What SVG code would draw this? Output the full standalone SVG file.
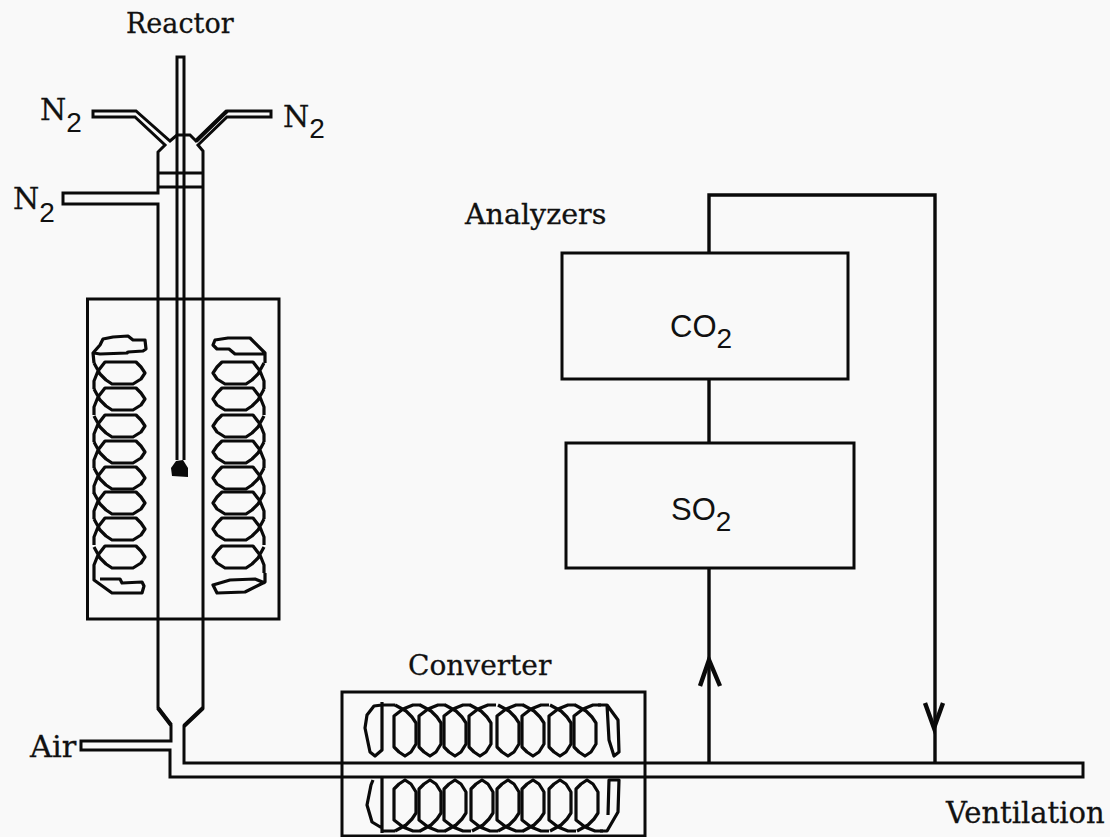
<svg xmlns="http://www.w3.org/2000/svg" width="1110" height="837" viewBox="0 0 1110 837">
<style>
.l{fill:none;stroke:#0a0a0a;stroke-width:3;stroke-linejoin:miter}
.c{fill:none;stroke:#0a0a0a;stroke-width:3.200;stroke-linejoin:round}
.w{fill:none;stroke:#0a0a0a;stroke-width:3.400}
.t{font-family:"DejaVu Serif",serif;font-size:27px;fill:#111;stroke:#111;stroke-width:.3}
.f{font-family:"Liberation Sans",sans-serif;font-size:31px;fill:#111;stroke:none}
.s{font-family:"Liberation Sans",sans-serif;font-size:28px;fill:#111;stroke:none}
</style>
<defs>
<path id="loop" class="c" d="M94,-10L100,1L106,7L112,11L133,11L141,6L145,0L141,-6L136,-11L105,-11L98,-2L94,8L94,16"/>
<path id="vl" class="c" d="M-10,0L1,6L7,12L11,18L11,39L6,47L0,51L-6,47L-11,42L-11,11L-2,4L8,0L16,0"/>
</defs>
<rect width="1110" height="837" fill="#f9f9f9"/>
<g id="reactor">
<path class="l" d="M93,111H136L170,141L177,135H190L196,141L227,111H271V117H227L198,145L203,151V708L184,726V763H1083V777H170V750H81V741H171V725L158,708V204H63V193H158V152L165,145L135,117H93Z"/>
<path class="l" d="M158,173H203M158,187H203"/>
<path d="M158,708L171,725M203,708L184,726M227,111L196,141" fill="none" stroke="#0a0a0a" stroke-width="4.200"/>
<path class="l" d="M177,460V57H184V460"/>
<path d="M176,461L183,460L188,468V477L172,476L171,468Z" fill="#0a0a0a"/>
</g>
<g id="furnace">
<rect class="l" x="87.500" y="299" width="191.500" height="320"/>
<g id="coil-left">
<path class="c" d="M94,363L93,353L100,345L103,339L113,337L128,336L133,340L145,340L146,349L143,351L128,352L127,353L100,354L94,353"/>
<use href="#loop" y="373"/><use href="#loop" y="399"/><use href="#loop" y="426"/><use href="#loop" y="452"/><use href="#loop" y="478"/><use href="#loop" y="503"/><use href="#loop" y="529"/><use href="#loop" y="557"/>
<path class="c" d="M94,573V580L112,593L142,593L144,586L142,582L122,583L120,579L100,579"/>
</g>
<g id="coil-right">
<path class="c" d="M265,363V353L250,338L228,338L215,340L213,345L217,349L229,349L235,354L265,354"/>
<use href="#loop" transform="translate(358,373) scale(-1,1)"/><use href="#loop" transform="translate(358,399) scale(-1,1)"/><use href="#loop" transform="translate(358,426) scale(-1,1)"/><use href="#loop" transform="translate(358,452) scale(-1,1)"/><use href="#loop" transform="translate(358,478) scale(-1,1)"/><use href="#loop" transform="translate(358,503) scale(-1,1)"/><use href="#loop" transform="translate(358,529) scale(-1,1)"/><use href="#loop" transform="translate(358,557) scale(-1,1)"/>
<path class="c" d="M265,573V582L245,592L217,593L213,585L230,580L255,579L265,583"/>
</g>
</g>
<g id="converter">
<rect class="l" x="342" y="692" width="303" height="144"/>
<g id="coil-top">
<path class="c" d="M382,702V750L375,756L370,752L365,728L367,715L374,706L382,705H395"/>
<use transform="translate(405,705)" href="#vl"/><use transform="translate(430,705)" href="#vl"/><use transform="translate(455,705)" href="#vl"/><use transform="translate(480,705)" href="#vl"/><use transform="translate(508,705)" href="#vl"/><use transform="translate(533,705)" href="#vl"/><use transform="translate(560,705)" href="#vl"/><use transform="translate(585,705)" href="#vl"/>
<path class="c" d="M598,705H607L618,720L619,752L614,756L609,740L607,705"/>
</g>
<g id="coil-bottom">
<path class="c" d="M382,778V833M382,828L372,822L367,805L371,785L373,780M382,831H395"/>
<use transform="translate(405,831) scale(1,-1)" href="#vl"/><use transform="translate(430,831) scale(1,-1)" href="#vl"/><use transform="translate(455,831) scale(1,-1)" href="#vl"/><use transform="translate(482,831) scale(1,-1)" href="#vl"/><use transform="translate(508,831) scale(1,-1)" href="#vl"/><use transform="translate(533,831) scale(1,-1)" href="#vl"/><use transform="translate(560,831) scale(1,-1)" href="#vl"/><use transform="translate(587,831) scale(1,-1)" href="#vl"/>
<path class="c" d="M600,831H607L618,812L619,780L609,780L608,815"/>
</g>
</g>
<g id="connectors">
<path class="w" d="M709,253V195H935V763"/>
<path class="w" d="M709,379V443"/>
<path class="w" d="M709,568V763"/>
<path class="w" style="stroke-width:4.400" d="M700,686L709,660L720,686"/>
<path class="w" style="stroke-width:4.400" d="M925,703L934,728L943,703"/>
</g>
<g id="co2"><rect class="l" x="562" y="253" width="286" height="126"/><text class="f" x="670" y="337">CO<tspan class="s" dy="11">2</tspan></text></g>
<g id="so2"><rect class="l" x="566" y="443" width="288" height="125"/><text class="f" x="671" y="520">SO<tspan class="s" dy="11">2</tspan></text></g>
<g id="labels">
<text class="t" x="126" y="33">Reactor</text>
<text class="t" style="font-size:30px" x="40" y="120">N<tspan class="s" dy="12">2</tspan></text>
<text class="t" style="font-size:30px" x="283" y="127">N<tspan class="s" dy="11">2</tspan></text>
<text class="t" style="font-size:30px" x="13" y="209">N<tspan class="s" dy="13">2</tspan></text>
<text class="t" style="font-size:30.500px" x="30" y="757">Air</text>
<text class="t" style="font-size:28.500px" x="465" y="224">Analyzers</text>
<text class="t" style="font-size:28px" x="408" y="675">Converter</text>
<text class="t" style="font-size:29px" x="946" y="823">Ventilation</text>
</g>
</svg>
